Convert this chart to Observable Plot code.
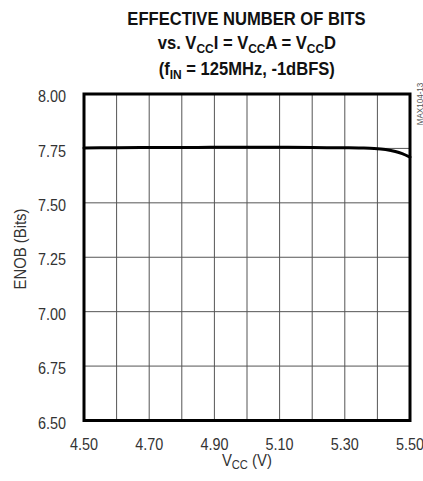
<!DOCTYPE html>
<html>
<head>
<meta charset="utf-8">
<script src="https://cdn.jsdelivr.net/npm/d3@7"></script>
<script src="https://cdn.jsdelivr.net/npm/@observablehq/plot@0.6"></script>
<style>
  html, body { margin: 0; padding: 0; background: #fff; }
  #wrap { position: relative; width: 423px; height: 481px; font-family: "Liberation Sans", Arial, sans-serif; }
  #title { position: absolute; left: 83.5px; width: 326px; top: 7px; text-align: center; font-weight: bold; font-size: 18px; line-height: 24px; color: #111; }
  #title .ln { display: inline-block; white-space: nowrap; transform: scaleX(0.92); }
  .sub { font-size: 13px; position: relative; top: 4px; }
  #xlabel { position: absolute; left: 146.5px; width: 200px; top: 452px; text-align: center; font-size: 16px; color: #333; }
  #xlabel .ln { display: inline-block; transform: scaleX(0.93); }
  #xlabel .sub { font-size: 12px; top: 3px; }
  #ylabel { position: absolute; left: 21px; top: 249px; transform: translate(-50%, -50%) rotate(-90deg) scaleX(0.93); white-space: nowrap; font-size: 16px; color: #333; }
  #code { position: absolute; left: 419px; top: 104px; transform: translate(-50%, -50%) rotate(-90deg) scaleX(0.85); white-space: nowrap; font-size: 9.5px; color: #555; }
  svg { display: block; }
</style>
</head>
<body>
<div id="wrap">
  <div id="chart"></div>
  <div id="title"><span class="ln">EFFECTIVE NUMBER OF BITS</span><br><span class="ln">vs. V<span class="sub">CC</span>I = V<span class="sub">CC</span>A = V<span class="sub">CC</span>D</span><br><span class="ln">(f<span class="sub">IN</span> = 125MHz, -1dBFS)</span></div>
  <div id="xlabel"><span class="ln">V<span class="sub">CC</span> (V)</span></div>
  <div id="ylabel">ENOB (Bits)</div>
  <div id="code">MAX104-13</div>
</div>
<script>
const vcc  = [4.50, 4.60, 4.70, 4.80, 4.90, 5.00, 5.10, 5.20, 5.30, 5.35, 5.39, 5.425, 5.455, 5.476, 5.50];
const enob = [7.752, 7.753, 7.754, 7.754, 7.755, 7.755, 7.755, 7.754, 7.753, 7.752, 7.750, 7.745, 7.736, 7.726, 7.710];
const xTicks = [4.50, 4.70, 4.90, 5.10, 5.30, 5.50];
const xGrid = [4.6, 4.7, 4.8, 4.9, 5.0, 5.1, 5.2, 5.3, 5.4];
const yTicks = [6.50, 6.75, 7.00, 7.25, 7.50, 7.75, 8.00];
const yGrid = [6.75, 7.00, 7.25, 7.50, 7.75];

const data = vcc.map((v, i) => ({v, e: enob[i]}));

const chart = Plot.plot({
  width: 423,
  height: 481,
  marginTop: 93.5,
  marginBottom: 61,
  marginLeft: 83.5,
  marginRight: 13.5,
  x: {domain: [4.5, 5.5]},
  y: {domain: [6.5, 8]},
  style: {fontFamily: "'Liberation Sans', Arial, sans-serif", fontSize: "16px", color: "#333", background: "white"},
  marks: [
    Plot.gridX(xGrid, {stroke: "#555", strokeOpacity: 1, strokeWidth: 1}),
    Plot.gridY(yGrid, {stroke: "#555", strokeOpacity: 1, strokeWidth: 1}),
    Plot.axisX(xTicks, {tickSize: 0, tickPadding: 18, tickFormat: d => d.toFixed(2), label: null}),
    Plot.axisY(yTicks, {tickSize: 0, tickPadding: 18, dy: 3, tickFormat: d => d.toFixed(2), label: null}),
    Plot.line(data, {x: "v", y: "e", stroke: "black", strokeWidth: 3, curve: "monotone-x"}),
    Plot.frame({stroke: "black", strokeWidth: 3})
  ]
});
// horizontally condense tick labels (narrow Helvetica look); keep Plot's x/y offsets
chart.querySelectorAll('g[aria-label$="tick label"] text').forEach(t => {
  const tr = t.getAttribute("transform") || "";
  t.setAttribute("transform", `${tr} scale(0.9,1)`);
});
document.getElementById("chart").appendChild(chart);
</script>
</body>
</html>
